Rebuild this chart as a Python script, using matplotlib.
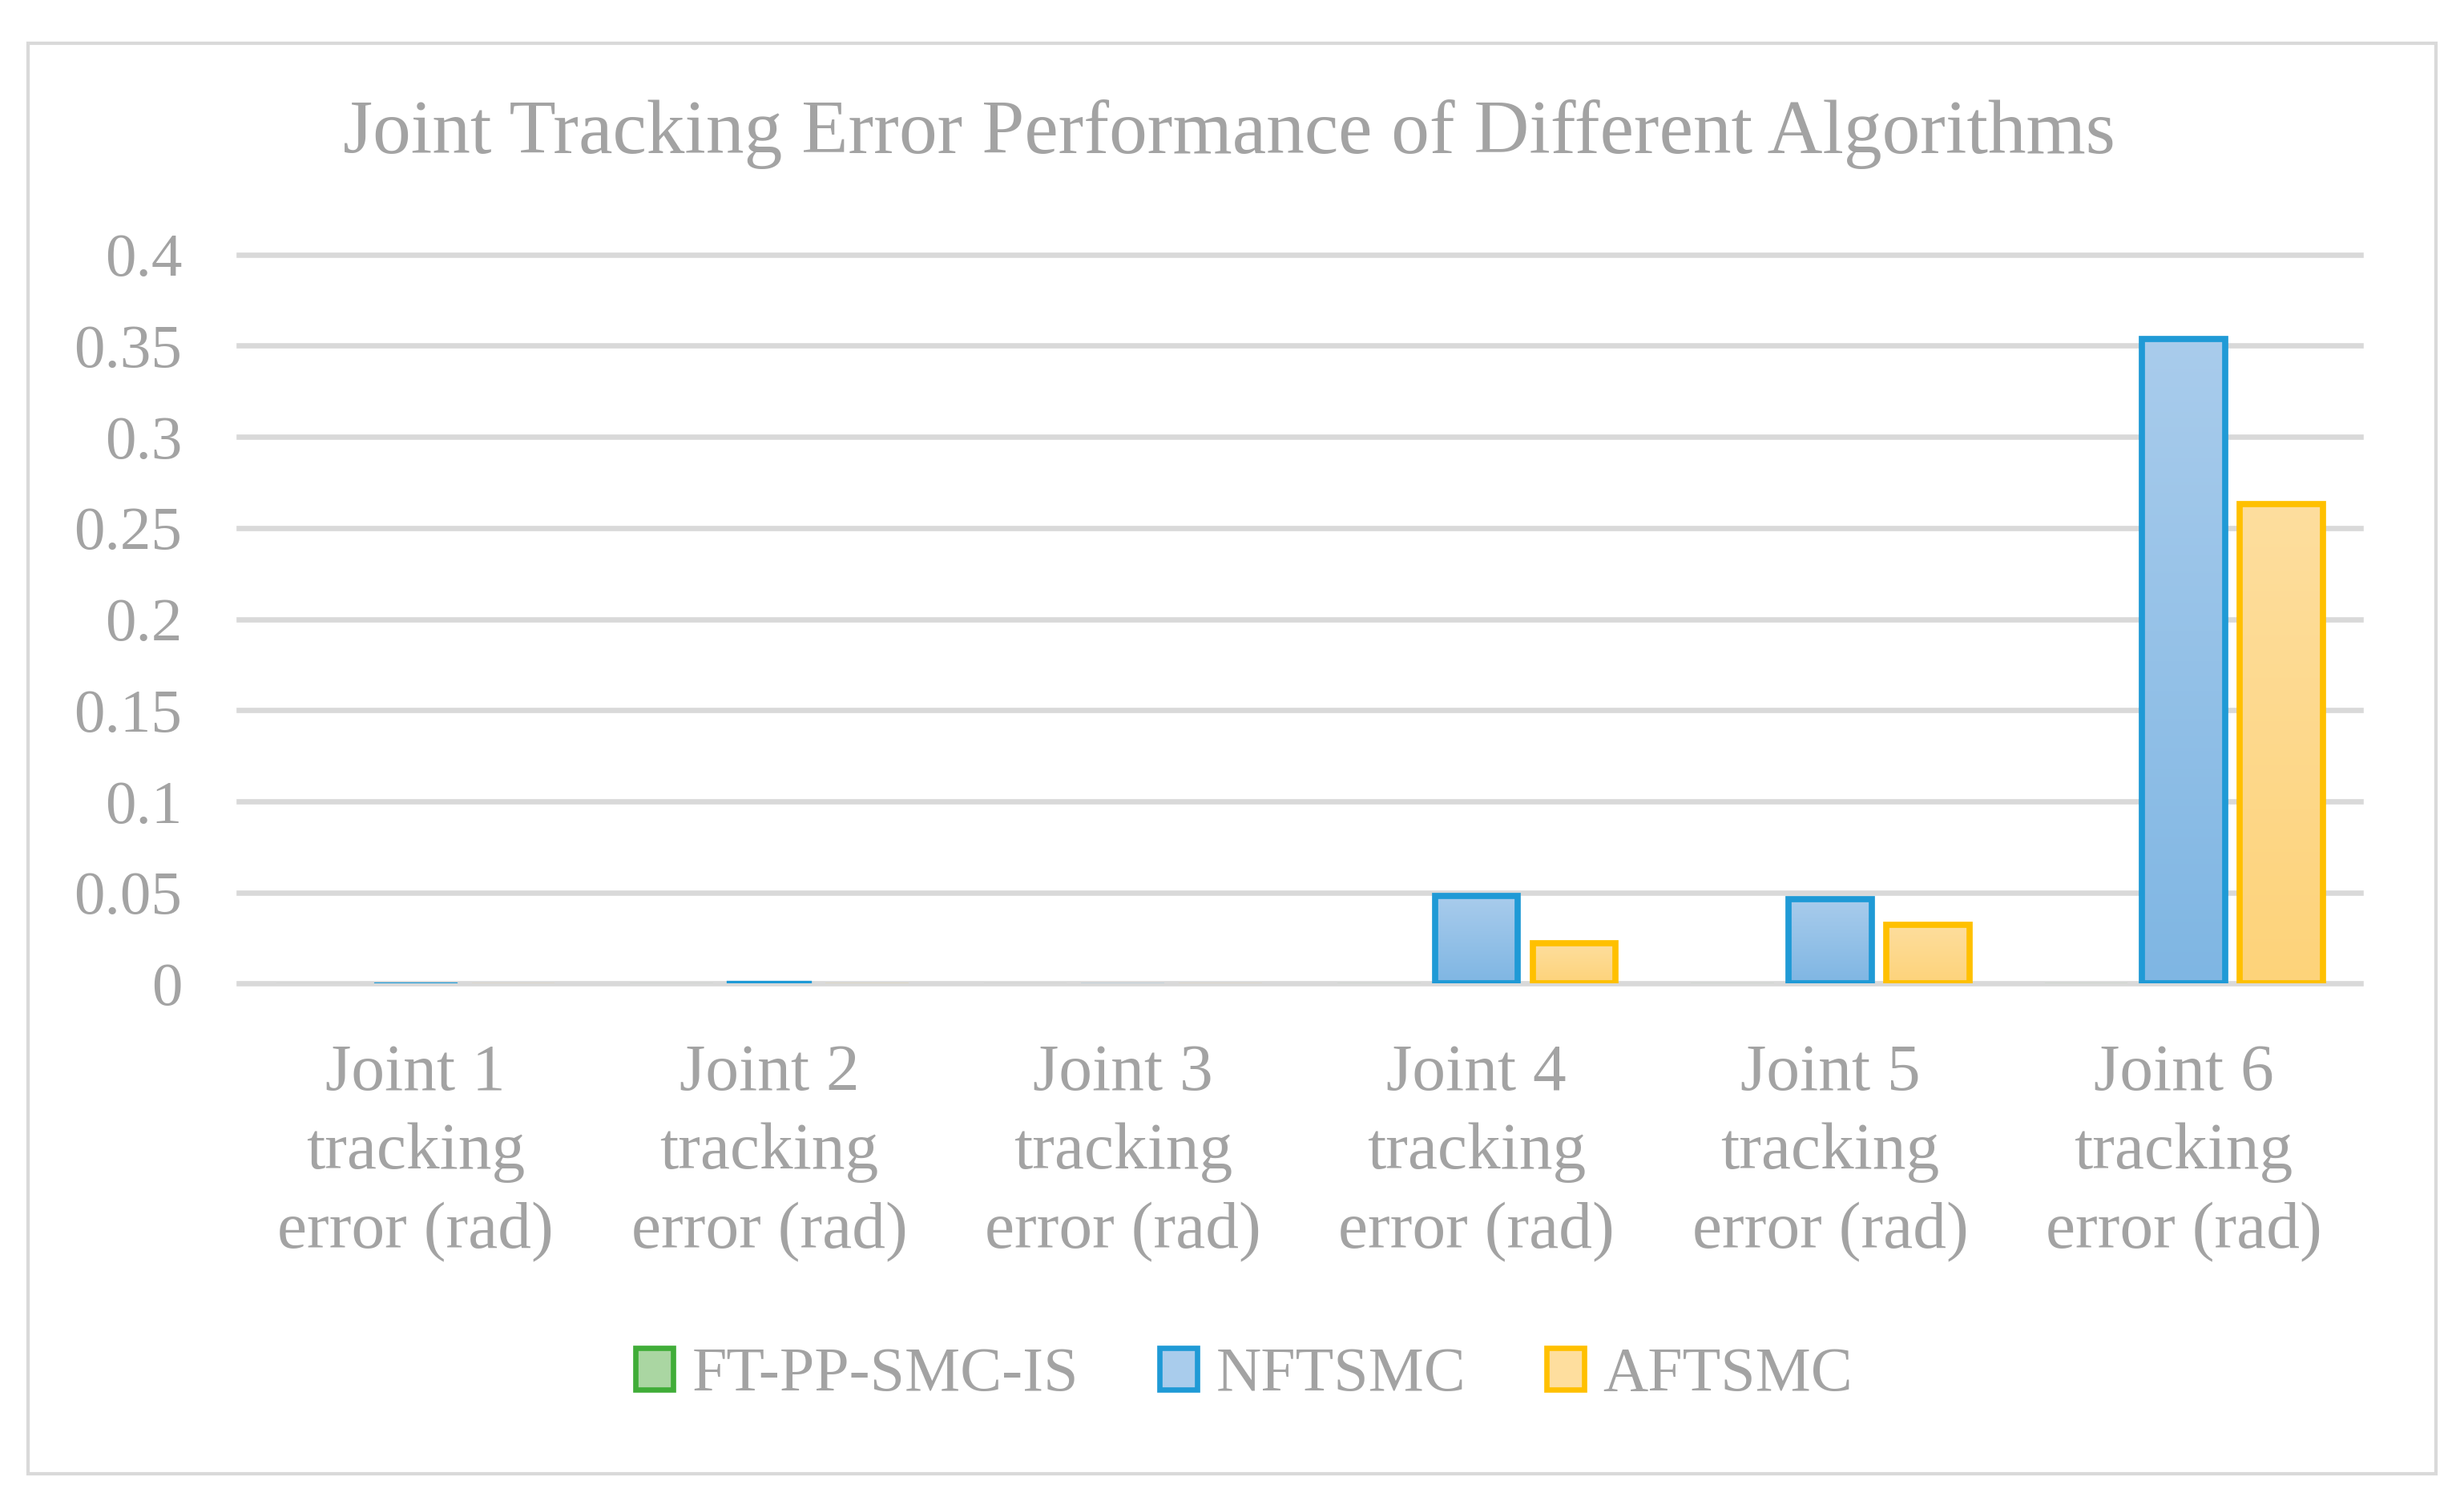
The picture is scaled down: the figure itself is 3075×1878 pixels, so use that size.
import numpy as np
import matplotlib
matplotlib.use('Agg')
import matplotlib.pyplot as plt
from matplotlib.colors import LinearSegmentedColormap
from matplotlib.patches import Patch, Rectangle

# data
categories = ['Joint 1\ntracking\nerror (rad)', 'Joint 2\ntracking\nerror (rad)',
              'Joint 3\ntracking\nerror (rad)', 'Joint 4\ntracking\nerror (rad)',
              'Joint 5\ntracking\nerror (rad)', 'Joint 6\ntracking\nerror (rad)']
series_names = ['FT-PP-SMC-IS', 'NFTSMC', 'AFTSMC']
ft_pp_smc_is = [0.00002, 0.00003, 0.00002, 0.00004, 0.00004, 0.00005]
nftsmc = [0.0006, 0.0010, 0.0001, 0.0482, 0.0462, 0.3538]
aftsmc = [0.00005, 0.00008, 0.00005, 0.0220, 0.0321, 0.2630]
yticks = [0, 0.05, 0.1, 0.15, 0.2, 0.25, 0.3, 0.35, 0.4]
ytick_labels = ['0', '0.05', '0.1', '0.15', '0.2', '0.25', '0.3', '0.35', '0.4']

# styles: (edge, fill bottom, fill top)
styles = [('#40AD38', '#8CCB82', '#AAD6A2'),
          ('#1F9AD6', '#7FB6E3', '#A9CCEC'),
          ('#FFC000', '#FDD37A', '#FEDE9E')]
txt = '#A3A3A3'
grid_c = '#D9D9D9'
plt.rcParams['font.family'] = ['Liberation Serif', 'DejaVu Serif']

fig = plt.figure(figsize=(10.25, 6.26), dpi=300)
fig.patches.append(Rectangle((0.0115, 0.021), 0.977, 0.950, transform=fig.transFigure,
                             fill=False, edgecolor=grid_c, linewidth=1.0))
ax = fig.add_axes([0.0969, 0.3464, 0.8611, 0.4844])

x = np.arange(len(categories))
width = 0.235
offset = 0.276
ax_h_pts = 0.4844 * 6.26 * 72
grad = np.linspace(0, 1, 256).reshape(-1, 1)
for i, vals in enumerate([ft_pp_smc_is, nftsmc, aftsmc]):
    edge, c0, c1 = styles[i]
    cmap = LinearSegmentedColormap.from_list('g%d' % i, [c0, c1])
    for xi, v in zip(x + (i - 1) * offset, vals):
        h_pts = v / 0.4 * ax_h_pts
        lw = min(1.85, h_pts)
        bar = Rectangle((xi - width / 2, 0), width, v, facecolor='none',
                        edgecolor=edge, linewidth=lw, zorder=4)
        ax.add_patch(bar)
        im = ax.imshow(grad, extent=(xi - width / 2, xi + width / 2, 0, v), origin='lower',
                       cmap=cmap, aspect='auto', zorder=3, interpolation='bilinear')
        im.set_clip_path(bar)

ax.set_xlim(-0.5, len(categories) - 0.5)
ax.set_ylim(0, 0.4)
ax.set_yticks(yticks)
ax.set_yticklabels(ytick_labels)
ax.set_xticks(x)
ax.set_xticklabels(categories, linespacing=1.4)
for s in ax.spines.values():
    s.set_visible(False)
ax.tick_params(axis='y', length=0, pad=17, labelsize=18.5, labelcolor=txt)
ax.tick_params(axis='x', length=0, pad=18, labelsize=20, labelcolor=txt)
ax.yaxis.grid(True, color=grid_c, linewidth=1.6)
ax.set_axisbelow(True)
for gl in ax.get_ygridlines():
    gl.set_clip_on(False)

fig.text(0.499, 0.911, 'Joint Tracking Error Performance of Different Algorithms',
         ha='center', va='center', fontsize=22.9, color=txt)

handles = [Patch(facecolor=s[2], edgecolor=s[0], linewidth=1.6) for s in styles]
fig.legend(handles, series_names, loc='center', bbox_to_anchor=(0.505, 0.086), ncol=3,
           frameon=False, fontsize=18.7, labelcolor=txt, handlelength=0.6, handleheight=0.65,
           handletextpad=0.3, columnspacing=1.3)

fig.savefig('out.png', dpi=300)
